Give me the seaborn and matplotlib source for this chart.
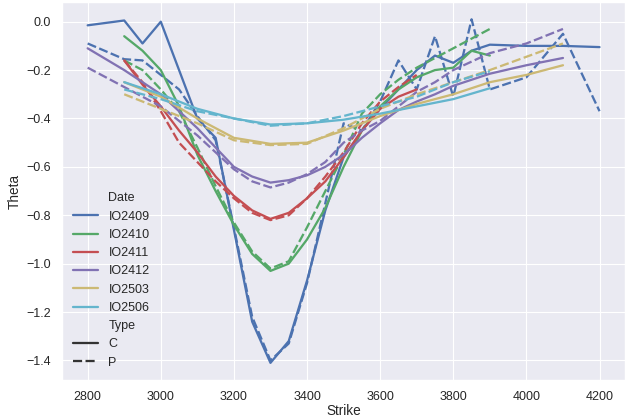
import matplotlib
matplotlib.use("Agg")
import matplotlib.pyplot as plt
import pandas as pd
import seaborn as sns

# strikes and theta values per expiry (C = call, P = put)
strike_io2409 = [2800, 2900, 2950, 3000, 3050, 3100, 3150, 3200, 3250, 3300, 3350, 3400, 3450,
                 3500, 3550, 3600, 3650, 3700, 3750, 3800, 3850, 3900, 4000, 4100, 4200]
c_io2409 = [-0.015, 0.005, -0.09, 0.0, -0.20, -0.40, -0.48, -0.86, -1.24, -1.41, -1.32, -1.07, -0.78,
            -0.56, -0.45, -0.36, -0.28, -0.20, -0.14, -0.17, -0.12, -0.095, -0.10, -0.10, -0.105]
p_io2409 = [-0.09, -0.155, -0.16, -0.22, -0.28, -0.39, -0.49, -0.85, -1.22, -1.40, -1.33, -1.08, -0.75,
            -0.42, -0.45, -0.33, -0.16, -0.28, -0.06, -0.31, 0.01, -0.28, -0.23, -0.05, -0.37]

strike_io2410 = [2900, 2950, 3000, 3050, 3100, 3150, 3200, 3250, 3300, 3350, 3400,
                 3450, 3500, 3550, 3600, 3650, 3700, 3750, 3800, 3850, 3900]
c_io2410 = [-0.06, -0.12, -0.20, -0.35, -0.55, -0.70, -0.84, -0.96, -1.03, -1.00, -0.90,
            -0.77, -0.60, -0.45, -0.35, -0.28, -0.23, -0.20, -0.19, -0.12, -0.14]
p_io2410 = [-0.16, -0.20, -0.28, -0.37, -0.52, -0.68, -0.83, -0.95, -1.02, -0.99, -0.85,
            -0.70, -0.55, -0.38, -0.30, -0.24, -0.19, -0.15, -0.11, -0.07, -0.03]

strike_io2411 = [2900, 2950, 3000, 3050, 3100, 3150, 3200, 3250, 3300, 3350, 3400,
                 3450, 3500, 3550, 3600, 3650, 3700]
c_io2411 = [-0.16, -0.26, -0.35, -0.45, -0.54, -0.64, -0.72, -0.78, -0.815, -0.79, -0.73,
            -0.66, -0.56, -0.45, -0.36, -0.31, -0.28]
p_io2411 = [-0.16, -0.25, -0.37, -0.50, -0.58, -0.66, -0.73, -0.79, -0.82, -0.80, -0.73,
            -0.64, -0.54, -0.42, -0.33, -0.27, -0.22]

strike_io2412 = [2800, 2900, 3000, 3100, 3200, 3250, 3300, 3350, 3400, 3450, 3500,
                 3550, 3600, 3650, 3700, 3750, 3800, 3900, 4000, 4100]
c_io2412 = [-0.11, -0.20, -0.30, -0.44, -0.60, -0.64, -0.665, -0.655, -0.635, -0.60, -0.55,
            -0.48, -0.42, -0.365, -0.33, -0.30, -0.265, -0.215, -0.18, -0.15]
p_io2412 = [-0.19, -0.27, -0.35, -0.47, -0.61, -0.66, -0.685, -0.665, -0.63, -0.58, -0.50,
            -0.45, -0.41, -0.35, -0.29, -0.25, -0.20, -0.13, -0.09, -0.03]

strike_io2503 = [2900, 3000, 3100, 3200, 3300, 3400, 3500, 3600, 3700, 3800, 3900, 4000, 4100]
c_io2503 = [-0.25, -0.31, -0.40, -0.48, -0.505, -0.50, -0.45, -0.39, -0.34, -0.30, -0.25, -0.22, -0.18]
p_io2503 = [-0.30, -0.36, -0.42, -0.49, -0.51, -0.505, -0.44, -0.36, -0.30, -0.25, -0.20, -0.145, -0.09]

strike_io2506 = [2900, 3000, 3100, 3200, 3300, 3400, 3500, 3600, 3700, 3800, 3900]
c_io2506 = [-0.25, -0.30, -0.36, -0.40, -0.425, -0.42, -0.405, -0.38, -0.35, -0.32, -0.275]
p_io2506 = [-0.28, -0.32, -0.37, -0.40, -0.43, -0.42, -0.39, -0.35, -0.31, -0.25, -0.205]

series = {
    "IO2409": (strike_io2409, c_io2409, p_io2409),
    "IO2410": (strike_io2410, c_io2410, p_io2410),
    "IO2411": (strike_io2411, c_io2411, p_io2411),
    "IO2412": (strike_io2412, c_io2412, p_io2412),
    "IO2503": (strike_io2503, c_io2503, p_io2503),
    "IO2506": (strike_io2506, c_io2506, p_io2506),
}

rows = []
for date, (strikes, calls, puts) in series.items():
    for k, v in zip(strikes, calls):
        rows.append({"Date": date, "Type": "C", "Strike": k, "Theta": v})
    for k, v in zip(strikes, puts):
        rows.append({"Date": date, "Type": "P", "Strike": k, "Theta": v})
df = pd.DataFrame(rows)

sns.set_theme(style="darkgrid")
plt.rcParams["font.family"] = ["Liberation Sans", "DejaVu Sans"]
plt.rcParams["lines.linewidth"] = 2.0

fig, ax = plt.subplots(figsize=(627 / 82, 419 / 82), dpi=82)
sns.lineplot(data=df, x="Strike", y="Theta", hue="Date", style="Type",
             palette="deep6", hue_order=list(series.keys()), linewidth=2.0, ax=ax)
sns.move_legend(ax, "lower left", frameon=False)
ax.set_xlabel("Strike", labelpad=1)

fig.subplots_adjust(left=0.099, right=0.997, bottom=0.093, top=0.995)
fig.savefig("out.png", dpi=82)
